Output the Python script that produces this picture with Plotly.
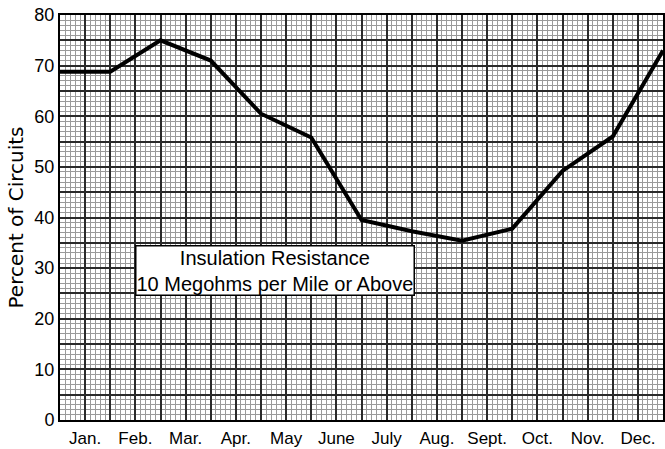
import plotly.graph_objects as go

# Data
month_labels = ["Jan.", "Feb.", "Mar.", "Apr.", "May", "June", "July",
                "Aug.", "Sept.", "Oct.", "Nov.", "Dec."]
# values at month boundaries (start of Jan ... start of next Jan)
percent_values = [68.8, 68.8, 75.0, 71.0, 60.5, 55.8, 39.5,
                  37.3, 35.4, 37.8, 49.2, 56.0, 73.0]
y_tick_values = [0, 10, 20, 30, 40, 50, 60, 70, 80]

x_positions = list(range(len(percent_values)))

FONT = "Liberation Sans"

fig = go.Figure()
fig.add_trace(go.Scatter(
    x=x_positions, y=percent_values, mode="lines",
    line=dict(color="black", width=4),
    hoverinfo="skip", showlegend=False, cliponaxis=False,
))

# x ticks: every half month; labels at month centers
x_tickvals = [i * 0.5 for i in range(0, 25)]
x_ticktext = []
for i in range(25):
    if i % 2 == 1:
        x_ticktext.append(month_labels[i // 2])
    else:
        x_ticktext.append("")

y_tickvals = [i * 5 for i in range(0, 17)]
y_ticktext = [str(v) if v in y_tick_values else "" for v in y_tickvals]

fig.update_layout(
    width=665, height=449,
    margin=dict(l=60, r=0, t=15, b=29),
    paper_bgcolor="white", plot_bgcolor="white",
    font=dict(family=FONT, color="black", size=17),
    xaxis=dict(
        range=[0, 12], tickmode="array", tickvals=x_tickvals, ticktext=x_ticktext,
        showgrid=True, gridcolor="#2a2a2a", gridwidth=2,
        minor=dict(dtick=0.1, tick0=0, showgrid=True, gridcolor="#9a9a9a", gridwidth=1),
        showline=True, linecolor="black", linewidth=2, mirror=True,
        ticks="", zeroline=False, tickfont=dict(size=17, family=FONT),
        ticklabelstandoff=2,
        fixedrange=True,
    ),
    yaxis=dict(
        range=[0, 80], tickmode="array", tickvals=y_tickvals, ticktext=y_ticktext,
        showgrid=True, gridcolor="#2a2a2a", gridwidth=2,
        minor=dict(dtick=1, tick0=0, showgrid=True, gridcolor="#9a9a9a", gridwidth=1),
        showline=True, linecolor="black", linewidth=2, mirror=True,
        ticks="", zeroline=False, tickfont=dict(size=18, family=FONT),
        title=dict(text="Percent of Circuits", font=dict(size=20, family="DejaVu Sans"), standoff=5),
        fixedrange=True,
    ),
    annotations=[dict(
        x=4.27, y=29.6, xref="x", yref="y",
        text="Insulation Resistance<br>10 Megohms per Mile or Above",
        showarrow=False, align="center",
        font=dict(size=20, family=FONT, color="black"),
        bgcolor="white", bordercolor="black", borderwidth=1.5, borderpad=0,
    )],
)

fig.write_html(
    "out.html",
    config={"displayModeBar": False},
    post_script="document.body.style.margin='0';document.body.style.padding='0';"
                "document.documentElement.style.overflow='hidden';",
)
